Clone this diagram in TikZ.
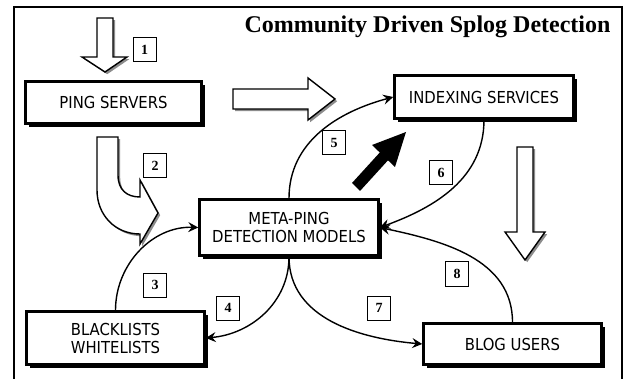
\documentclass[tikz,border=0pt]{standalone}
\usepackage{fontspec}
\newfontfamily\boxfont{DejaVu Sans Condensed}
\newfontfamily\titlefont{Liberation Serif}
\usetikzlibrary{arrows.meta,shadows}
\tikzset{
  boxnode/.style={draw, line width=2.5pt, fill=white, inner sep=0pt, align=center,
    font=\boxfont\fontsize{16.5}{19}\selectfont,
    general shadow={fill=black, shadow xshift=3.5pt, shadow yshift=-3.5pt}},
  numbox/.style={draw, line width=1pt, fill=white, minimum width=23pt, minimum height=24pt,
    inner sep=0pt, font=\titlefont\bfseries\fontsize{14}{15}\selectfont},
  blockarrow/.style={draw, line width=1.4pt, fill=white, line join=miter,
    general shadow={fill=black!45, shadow xshift=2.2pt, shadow yshift=-2.2pt}},
  conn/.style={line width=1.4pt, -{Stealth[length=10pt,width=10pt,inset=3.5pt]}},
}
\begin{document}
\begin{tikzpicture}[x=1pt,y=-1pt]
\clip (0,0) rectangle (626,379);
\fill[white] (0,0) rectangle (626,379);
% frame
\draw[line width=1.5pt] (14,395) -- (14,7) -- (622,7) -- (622,395);
% title
\node[font=\titlefont\bfseries\fontsize{24}{27}\selectfont] (title) at (427.5,27) {Community Driven Splog Detection};
% boxes
\node[boxnode, minimum width=176pt, minimum height=42pt] (ping) at (113.5,102.5) {PING SERVERS};
\node[boxnode, minimum width=179pt, minimum height=43pt] (idx) at (484,97) {INDEXING SERVICES};
\node[boxnode, minimum width=179pt, minimum height=56pt] (meta) at (289,227.5) {META-PING\\[-1pt]DETECTION MODELS};
\node[boxnode, minimum width=178pt, minimum height=53pt] (blk) at (115.5,338) {BLACKLISTS\\[-1pt]WHITELISTS};
\node[boxnode, minimum width=178pt, minimum height=41pt] (blog) at (512.5,344) {BLOG USERS};
% block arrows
\path[blockarrow] (97,18) -- (113,18) -- (113,57) -- (127,57) -- (105,72) -- (82,57) -- (97,57) -- cycle;
\path[blockarrow] (233,89) -- (308,89) -- (308,78) -- (335,99) -- (308,120) -- (308,109) -- (233,109) -- cycle;
\path[blockarrow] (517,147) -- (533,147) -- (533,232) -- (545,232) -- (525,260) -- (505,232) -- (517,232) -- cycle;
\path[blockarrow] (97,137) -- (118,137) -- (118,175) .. controls (118,190) and (127,197) .. (140,197)
  -- (140,180) -- (158,213) -- (140,244) -- (140,234) .. controls (115,234) and (97,215) .. (97,190) -- cycle;
% black arrow
\fill[black] (352,183) -- (379.8,152.5) -- (372,145) -- (406,132) -- (395,167) -- (388,160.3) -- (360,191) -- cycle;
% connectors
\draw[conn] (blk.north) to[out=90,in=178] (meta.west);
\draw[conn] (meta.south) to[out=-90,in=5] (blk.east);
\draw[conn] (meta.north) to[out=90,in=195] (idx.west);
\draw[conn] (idx.south) to[out=-90,in=20] (meta.east);
\draw[conn] (meta.south) to[out=-90,in=175] (blog.west);
\draw[conn] (blog.north) to[out=90,in=-12] (meta.east);
% number labels
\node[numbox] (n1) at (144.5,49.5) {1};
\node[numbox] (n2) at (155,166) {2};
\node[numbox] (n3) at (155,285) {3};
\node[numbox] (n4) at (228,308) {4};
\node[numbox] (n5) at (334,143) {5};
\node[numbox] (n6) at (441,173) {6};
\node[numbox] (n7) at (379,308) {7};
\node[numbox] (n8) at (457,274) {8};
\end{tikzpicture}
\end{document}
